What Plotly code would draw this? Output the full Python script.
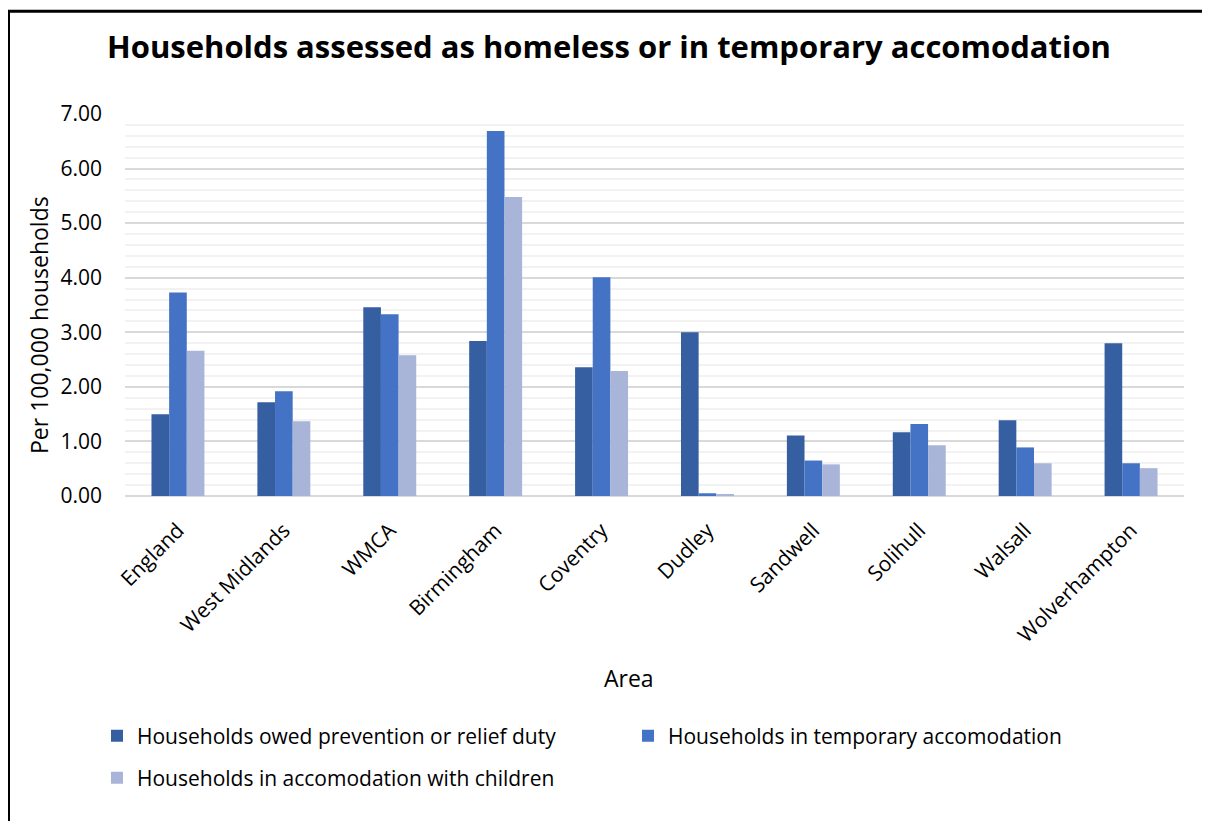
import plotly.graph_objects as go

areas = ["England", "West Midlands", "WMCA", "Birmingham", "Coventry", "Dudley",
         "Sandwell", "Solihull", "Walsall", "Wolverhampton"]
owed_duty = [1.50, 1.72, 3.46, 2.84, 2.36, 3.00, 1.11, 1.17, 1.39, 2.80]
temp_accom = [3.73, 1.92, 3.33, 6.69, 4.01, 0.05, 0.65, 1.32, 0.89, 0.60]
with_children = [2.66, 1.37, 2.58, 5.48, 2.29, 0.03, 0.58, 0.93, 0.60, 0.51]

series_names = ["Households owed prevention or relief duty",
                "Households in temporary accomodation",
                "Households in accomodation with children"]
colors = ["#365FA1", "#4472C4", "#A8B5D9"]

FONT = "Open Sans"
W, H = 1210, 821
OFF = 8  # page body margin
L, R, T, B = 117, 34, 106, 333
pw, ph = W - L - R, H - T - B


def px_x(p):
    return (p - OFF - L) / pw


def px_y(p):
    return (H - B - (p - OFF)) / ph


fig = go.Figure()
for name, vals, col, lg in zip(series_names, [owed_duty, temp_accom, with_children],
                               colors, ["legend", "legend", "legend2"]):
    fig.add_trace(go.Bar(x=areas, y=vals, name=name, marker_color=col,
                         marker_line_width=0, legend=lg))

fig.update_layout(
    width=W, height=H,
    margin=dict(l=L, r=R, t=T, b=B, autoexpand=False),
    paper_bgcolor="white", plot_bgcolor="white",
    font=dict(family=FONT, color="#000000"),
    barmode="group", bargap=0.5, bargroupgap=0,
    title=dict(text="<b>Households assessed as homeless or in temporary accomodation</b>",
               font=dict(family=FONT, size=31, color="#000000"),
               x=(609 - OFF) / W, xref="container", xanchor="center",
               y=1 - (47 - OFF) / H, yref="container", yanchor="middle"),
    xaxis=dict(showgrid=False, showline=False, ticks="", tickangle=-45,
               tickfont=dict(size=21), automargin=False, ticklabelstandoff=17),
    yaxis=dict(range=[0, 7], dtick=1, tickformat=".2f", showgrid=True,
               gridcolor="#D9D9D9", gridwidth=2, zeroline=True, zerolinecolor="#D9D9D9",
               zerolinewidth=2, showline=False, ticks="", ticklabelstandoff=22,
               tickfont=dict(size=21), automargin=False,
               minor=dict(dtick=0.2, showgrid=True, gridcolor="#F2F2F2", gridwidth=2)),
    annotations=[
        dict(text="Area", xref="paper", yref="paper", x=px_x(629), y=px_y(678),
             xanchor="center", yanchor="middle", showarrow=False, font=dict(size=23)),
        dict(text="Per 100,000 households", xref="paper", yref="paper",
             x=px_x(39), y=px_y(325), xanchor="center", yanchor="middle",
             textangle=-90, showarrow=False, font=dict(size=23)),
    ],
    legend=dict(orientation="h", x=px_x(97), xanchor="left", y=px_y(736), yanchor="middle",
                font=dict(size=21), entrywidth=486, bgcolor="rgba(0,0,0,0)"),
    legend2=dict(orientation="h", x=px_x(97), xanchor="left", y=px_y(778), yanchor="middle",
                 font=dict(size=21), bgcolor="rgba(0,0,0,0)"),
    shapes=[dict(type="rect", xref="paper", yref="paper",
                 x0=px_x(8.5), x1=px_x(1240), y0=px_y(850), y1=px_y(11.3),
                 line=dict(color="#000000", width=3), fillcolor="rgba(0,0,0,0)",
                 layer="below")],
)

fig.write_html("out.html")
